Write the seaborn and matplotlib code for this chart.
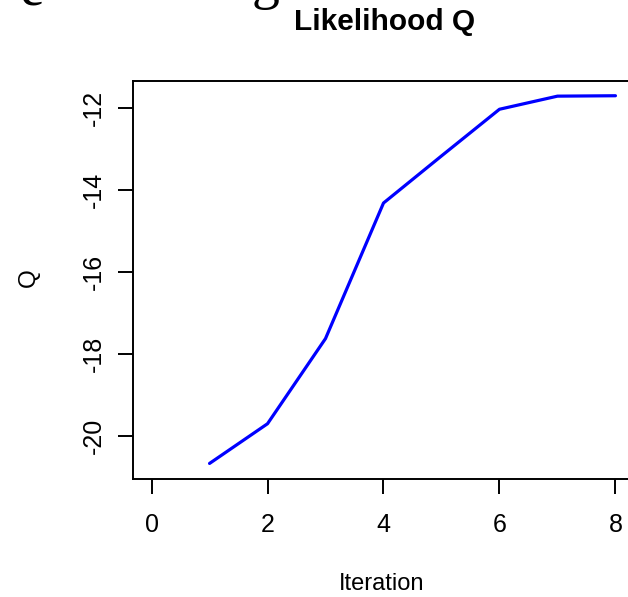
import matplotlib
matplotlib.use("Agg")
import matplotlib.pyplot as plt
import seaborn as sns
import pandas as pd

iteration = [1, 2, 3, 4, 5, 6, 7, 8]
q_values = [-20.68, -19.71, -17.63, -14.32, -13.17, -12.03, -11.71, -11.70]
x_ticks = [0, 2, 4, 6, 8]
y_ticks = [-20, -18, -16, -14, -12]
title = "Likelihood Q"
x_label = "Iteration"
y_label = "Q"

sns.set_style("white")
plt.rcParams['font.family'] = ['Liberation Sans', 'DejaVu Sans']
plt.rcParams['text.color'] = 'black'
plt.rcParams['xtick.color'] = 'black'
plt.rcParams['ytick.color'] = 'black'

W, H = 628, 597
fig = plt.figure(figsize=(W / 100, H / 100), dpi=100)
left, right, top, bottom = 133, 634, 81, 479
ax = fig.add_axes([left / W, 1 - bottom / H, (right - left) / W, (bottom - top) / H])

df = pd.DataFrame({"Iteration": iteration, "Q": q_values})
sns.lineplot(data=df, x="Iteration", y="Q", ax=ax, color="#0000FF", linewidth=2.3)

ax.set_xlim(-0.32, 8.32)
ax.set_ylim(-21.06, -11.34)
ax.set_xticks(x_ticks)
ax.set_yticks(y_ticks)
ax.set_xticklabels([str(t) for t in x_ticks], fontsize=18)
ax.set_yticklabels([str(t) for t in y_ticks], fontsize=18, rotation=90, va='center')
ax.tick_params(axis='both', direction='out', length=10.5, width=1.4, colors='black',
               left=True, bottom=True)
ax.tick_params(axis='x', pad=14)
ax.tick_params(axis='y', pad=9)
for s in ax.spines.values():
    s.set_color('black')
    s.set_linewidth(1.4)
ax.set_xlabel("")
ax.set_ylabel("")

fig.text(385 / W, 1 - 22 / H, title, ha='center', va='center', fontsize=21.5, fontweight='bold')
fig.text(382 / W, 1 - 584 / H, x_label, ha='center', va='center', fontsize=17)
fig.text(29 / W, 1 - 278 / H, y_label, ha='center', va='center', fontsize=17.5, rotation=90)

# cropped fragments of larger text at the very top edge
fig.text(32 / W, 1 - 5 / H, "e", ha='center', va='baseline', fontsize=40,
         family=['Liberation Serif'])
fig.text(266 / W, 1 + 2 / H, "g", ha='center', va='baseline', fontsize=40,
         family=['Liberation Serif'])

fig.savefig("out.png", dpi=100)
